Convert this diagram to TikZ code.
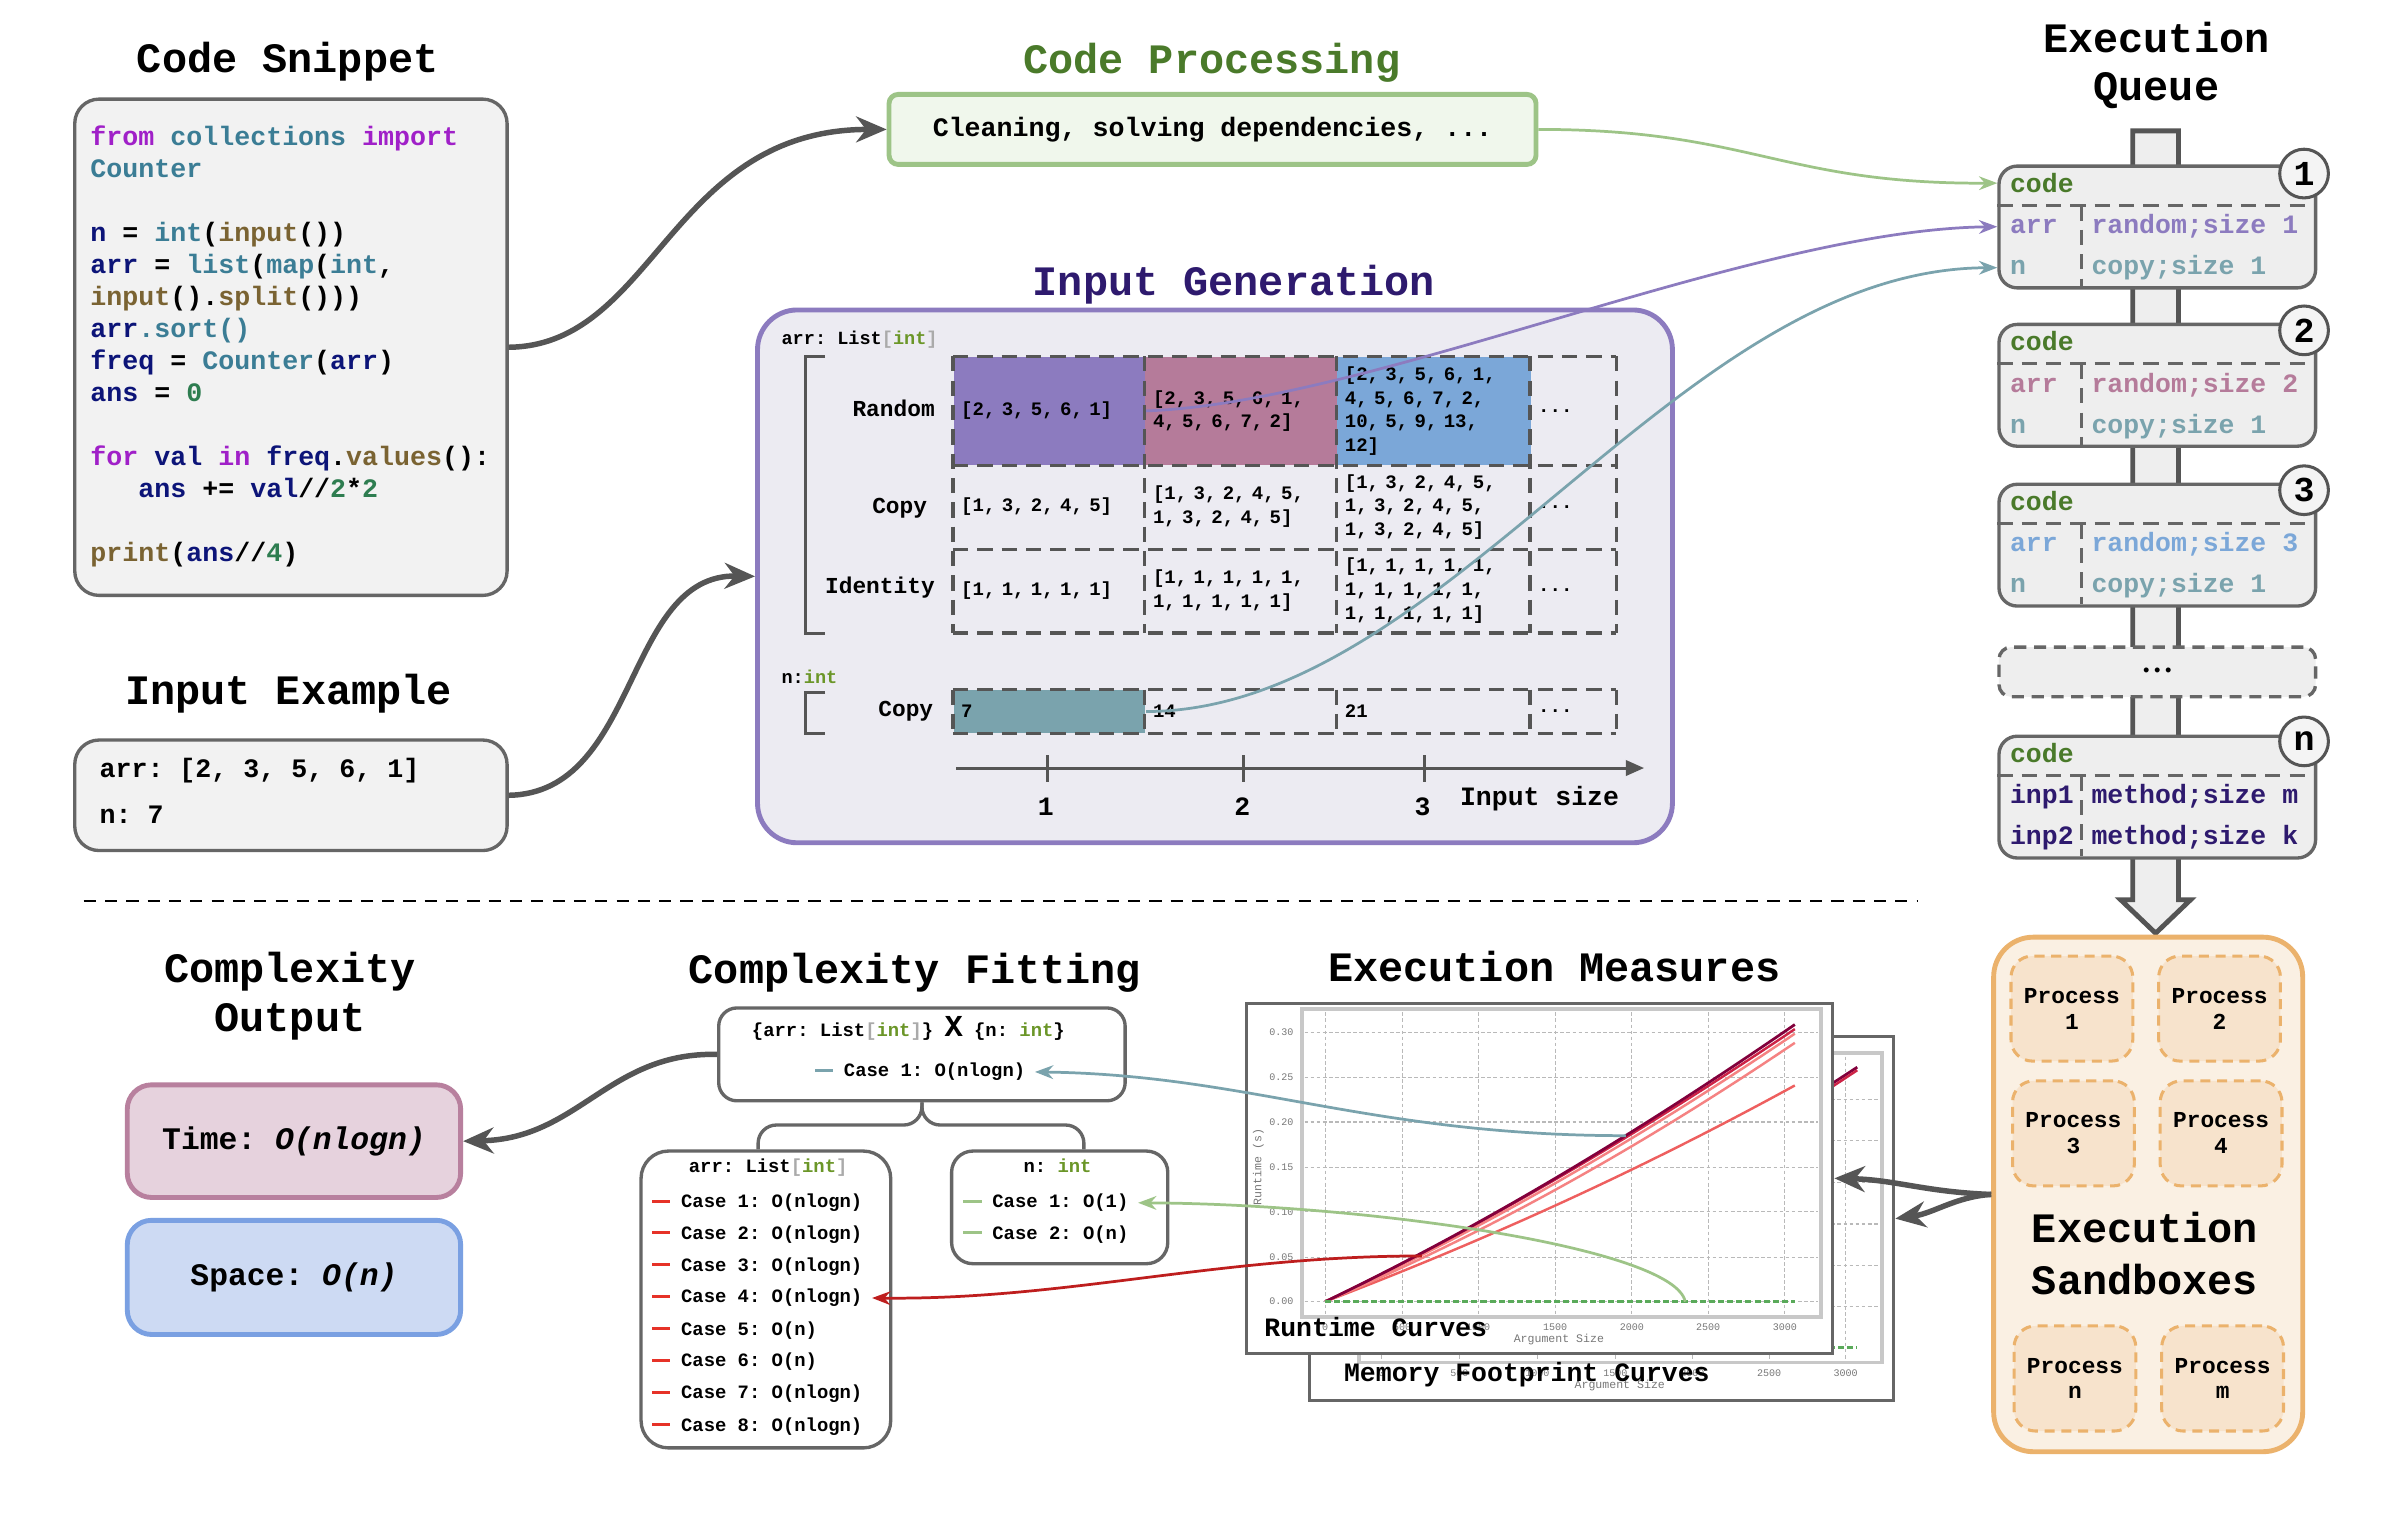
\documentclass[tikz,border=0pt]{standalone}
\usepackage{fontspec}
\setmainfont{Liberation Mono}
\usepackage{tikz}
\usetikzlibrary{positioning,arrows.meta}
\AtBeginDocument{\frenchspacing}

% colours
\definecolor{linegray}{RGB}{85,85,85}
\definecolor{boxgray}{RGB}{102,102,102}
\definecolor{codebg}{RGB}{242,242,242}
\definecolor{queuebg}{RGB}{238,238,238}
\definecolor{circbg}{RGB}{244,244,244}
\definecolor{kwpurple}{RGB}{160,32,200}
\definecolor{biteal}{RGB}{59,125,149}
\definecolor{fnbrown}{RGB}{122,99,50}
\definecolor{varnavy}{RGB}{12,20,120}
\definecolor{numgreen}{RGB}{46,125,80}
\definecolor{procgreen}{RGB}{157,196,135}
\definecolor{procbg}{RGB}{240,247,236}
\definecolor{titlegreen}{RGB}{74,122,42}
\definecolor{titlepurple}{RGB}{46,26,110}
\definecolor{genline}{RGB}{140,123,191}
\definecolor{genbg}{RGB}{236,235,242}
\definecolor{randpurple}{RGB}{140,123,191}
\definecolor{randmauve}{RGB}{181,123,154}
\definecolor{randblue}{RGB}{123,167,216}
\definecolor{copyteal}{RGB}{122,163,173}
\definecolor{typegreen}{RGB}{107,150,40}
\definecolor{typegray}{RGB}{170,170,170}
\definecolor{sandline}{RGB}{235,178,108}
\definecolor{sandbg}{RGB}{250,240,227}
\definecolor{procfill}{RGB}{247,227,204}
\definecolor{timeline}{RGB}{184,128,158}
\definecolor{timebg}{RGB}{230,210,221}
\definecolor{spaceline}{RGB}{122,160,226}
\definecolor{spacebg}{RGB}{205,218,243}
\definecolor{casered}{RGB}{230,50,40}
\definecolor{arrowred}{RGB}{190,30,30}
\definecolor{gridgray}{RGB}{185,185,185}
\definecolor{framegray}{RGB}{200,200,200}
\definecolor{tickgray}{RGB}{120,120,120}
\definecolor{rtdark}{RGB}{130,0,60}
\definecolor{rtred}{RGB}{205,35,70}
\definecolor{rtpink}{RGB}{245,130,130}
\definecolor{rtsalmon}{RGB}{238,95,95}
\definecolor{rtgreen}{RGB}{90,170,90}

% code colouring
\newcommand{\ckw}[1]{\textcolor{kwpurple}{#1}}
\newcommand{\cbi}[1]{\textcolor{biteal}{#1}}
\newcommand{\cfn}[1]{\textcolor{fnbrown}{#1}}
\newcommand{\cvr}[1]{\textcolor{varnavy}{#1}}
\newcommand{\cnm}[1]{\textcolor{numgreen}{#1}}
\newcommand{\tyint}{\textcolor{typegreen}{int}}
\newcommand{\tylist}{List\textcolor{typegray}{[}\tyint\textcolor{typegray}{]}}
\newcommand{\casedash}[1]{\textcolor{#1}{\rule[0.5ex]{6pt}{1pt}}\hspace{3.5pt}}

\tikzset{
  ttl/.style={font=\fontsize{13.75}{16}\selectfont\bfseries, align=center, inner sep=0pt},
  card/.style={draw=boxgray, line width=1.1pt, fill=codebg, rounded corners=8pt, anchor=north west, inner sep=0pt},
  codetxt/.style={font=\fontsize{8.75}{10.5}\selectfont\bfseries, align=left, inner sep=0pt, anchor=base west},
  cellbox/.style={anchor=north west, align=left, inner xsep=2.5pt, inner ysep=0pt, font=\fontsize{6.25}{7.75}\selectfont\bfseries},
  gridln/.style={draw=linegray, line width=1.1pt, dash pattern=on 5pt off 3pt},
  brkt/.style={draw=linegray, line width=1.1pt},
  rowlbl/.style={font=\fontsize{7.5}{9}\selectfont\bfseries, inner sep=0pt, anchor=base},
  smalltxt/.style={font=\fontsize{6.1}{7.5}\selectfont\bfseries, inner sep=0pt},
  axisln/.style={draw=linegray, line width=1pt},
  axlbl/.style={font=\fontsize{8.7}{10}\selectfont\bfseries, inner sep=0pt, anchor=base},
  pipe/.style={draw=linegray, line width=1.6pt, fill=queuebg, line join=miter},
  qbox/.style={draw=boxgray, line width=1.1pt, fill=queuebg, rounded corners=6pt, anchor=north west, inner sep=0pt, minimum width=104pt, minimum height=40pt},
  qtxt/.style={font=\fontsize{8.7}{10}\selectfont\bfseries, anchor=base west, inner sep=0pt},
  qsplit/.style={draw=boxgray, line width=1pt, dash pattern=on 5pt off 3pt},
  qnum/.style={circle, draw=linegray, line width=1pt, fill=circbg, minimum size=16pt, inner sep=0pt, font=\fontsize{11.5}{12}\selectfont\bfseries},
  procbx/.style={draw=sandline, line width=1pt, dash pattern=on 3.3pt off 2.2pt, fill=procfill, rounded corners=7pt, anchor=north west, minimum width=40pt, minimum height=34.5pt, align=center, inner sep=0pt, font=\fontsize{7.5}{8.5}\selectfont\bfseries},
  fitbox/.style={draw=boxgray, line width=1.1pt, fill=white, rounded corners=6pt, anchor=north west, inner sep=0pt},
  caseln/.style={font=\fontsize{6.2}{7.5}\selectfont\bfseries, anchor=base west, inner xsep=3pt, inner ysep=0.5pt},
  brace/.style={draw=boxgray, line width=1.1pt, rounded corners=6pt},
  outbox/.style={anchor=north west, line width=1.6pt, rounded corners=8pt, minimum width=109.5pt, inner sep=0pt, font=\fontsize{10.3}{12}\selectfont\bfseries},
  plotbox/.style={draw=boxgray, line width=1pt, fill=white, anchor=north west, inner sep=0pt},
  plotin/.style={draw=framegray, line width=1.3pt},
  plotgrid/.style={draw=gridgray, line width=0.35pt, dash pattern=on 1.2pt off 0.8pt},
  ticklbl/.style={font=\fontsize{3.3}{4}\selectfont, text=tickgray, inner sep=0pt},
  curvelbl/.style={font=\fontsize{8.7}{10}\selectfont\bfseries, anchor=base west, inner sep=0pt},
  bigarrow/.style={draw=linegray, line width=1.8pt, -{Stealth[length=10pt,width=8.5pt]}},
  thinarrow/.style={line width=0.9pt, -{Stealth[length=6pt,width=4.5pt]}},
}

\begin{document}
\begin{tikzpicture}[x=0.5pt,y=-0.5pt]
  \path[use as bounding box, fill=white] (0,0) rectangle (1568,1003);

  % Code snippet
  \node[ttl, anchor=base] (snipttl) at (189,47.7) {Code Snippet};
  \node[card, minimum width=142pt, minimum height=163pt] (snip) at (48,64) {};
  % base of a multi-line node is its last line
  \node[codetxt] (snipcode) at (59,368.6) {%
    \ckw{from} \cbi{collections} \ckw{import}\\
    \cbi{Counter}\\[10.5pt]
    \cvr{n} = \cbi{int}(\cfn{input}())\\
    \cvr{arr} = \cbi{list}(\cbi{map}(\cbi{int},\\
    \cfn{input}().\cfn{split}()))\\
    \cvr{arr}\cbi{.sort()}\\
    \cvr{freq} = \cbi{Counter}(\cvr{arr})\\
    \cvr{ans} = \cnm{0}\\[10.5pt]
    \ckw{for} \cvr{val} \ckw{in} \cvr{freq}.\cfn{values}():\\
    \hspace*{15.75pt}\cvr{ans} += \cvr{val}//\cnm{2}*\cnm{2}\\[10.5pt]
    \cfn{print}(\cvr{ans}//\cnm{4})};

  % Input example
  \node[ttl, anchor=base] (inexttl) at (189.5,462.5) {Input Example};
  \node[card, minimum width=142pt, minimum height=36.3pt] (inex) at (48,485) {};
  \node[codetxt] (inexarr) at (65,510.6) {arr: [2, 3, 5, 6, 1]};
  \node[codetxt] (inexn) at (65,540.8) {n: 7};

  % Code processing
  \node[ttl, anchor=base, text=titlegreen] (procttl) at (796,48.2) {Code Processing};
  \node[draw=procgreen, fill=procbg, line width=1.6pt, rounded corners=3pt, minimum width=212.5pt, minimum height=23pt, inner sep=0pt, font=\fontsize{8.75}{10}\selectfont\bfseries] (proc) at (796.5,85) {Cleaning, solving dependencies, ...};

  % Input generation
  \node[ttl, anchor=base, text=titlepurple] (genttl) at (810.5,194.4) {Input Generation};
  \node[draw=genline, fill=genbg, line width=1.6pt, rounded corners=13pt, anchor=north west, minimum width=300.5pt, minimum height=175pt, inner sep=0pt] (gen) at (496,202) {};
  \node[smalltxt, anchor=base west] (arrtype) at (513,226) {arr: \tylist};
  \draw[brkt] (542,234) -- (529,234) -- (529,416) -- (542,416);
  \node[rowlbl] (lblrnd) at (587,273.3) {Random};
  \node[rowlbl] (lblcpy) at (591,337.6) {Copy};
  \node[rowlbl] (lblidt) at (578,389.8) {Identity};

  % arr cells
  \node[cellbox, text width=58pt, minimum height=35.5pt, fill=randpurple] (rnd1) at (626,234) {[2, 3, 5, 6, 1]};
  \node[cellbox, text width=58pt, minimum height=35.5pt, fill=randmauve] (rnd2) at (752,234) {[2, 3, 5, 6, 1,\\4, 5, 6, 7, 2]};
  \node[cellbox, text width=58.5pt, minimum height=35.5pt, fill=randblue] (rnd3) at (878,234) {[2, 3, 5, 6, 1,\\4, 5, 6, 7, 2,\\10, 5, 9, 13,\\12]};
  \node[cellbox, text width=23pt, minimum height=35.5pt] (rnd4) at (1005,234) {...};
  \node[cellbox, text width=58pt, minimum height=27.5pt] (cpy1) at (626,305) {[1, 3, 2, 4, 5]};
  \node[cellbox, text width=58pt, minimum height=27.5pt] (cpy2) at (752,305) {[1, 3, 2, 4, 5,\\1, 3, 2, 4, 5]};
  \node[cellbox, text width=58.5pt, minimum height=27.5pt] (cpy3) at (878,305) {[1, 3, 2, 4, 5,\\1, 3, 2, 4, 5,\\1, 3, 2, 4, 5]};
  \node[cellbox, text width=23pt, minimum height=27.5pt] (cpy4) at (1005,305) {...};
  \node[cellbox, text width=58pt, minimum height=27.5pt] (idt1) at (626,360) {[1, 1, 1, 1, 1]};
  \node[cellbox, text width=58pt, minimum height=27.5pt] (idt2) at (752,360) {[1, 1, 1, 1, 1,\\1, 1, 1, 1, 1]};
  \node[cellbox, text width=58.5pt, minimum height=27.5pt] (idt3) at (878,360) {[1, 1, 1, 1, 1,\\1, 1, 1, 1, 1,\\1, 1, 1, 1, 1]};
  \node[cellbox, text width=23pt, minimum height=27.5pt] (idt4) at (1005,360) {...};
  \draw[gridln] (rnd1.north west) -- (rnd4.north east);
  \draw[gridln] (rnd1.south west) -- (rnd4.south east);
  \draw[gridln] (cpy1.south west) -- (cpy4.south east);
  \draw[gridln] (idt1.south west) -- (idt4.south east);
  \draw[gridln] (rnd1.north west) -- (idt1.south west);
  \draw[gridln] (rnd2.north west) -- (idt2.south west);
  \draw[gridln] (rnd3.north west) -- (idt3.south west);
  \draw[gridln] (rnd4.north west) -- (idt4.south west);
  \draw[gridln] (rnd4.north east) -- (idt4.south east);

  % n cells
  \node[smalltxt, anchor=base west] (ntype) at (513,448.9) {n:\tyint};
  \draw[brkt] (542,455) -- (529,455) -- (529,482) -- (542,482);
  \node[rowlbl] (lblncpy) at (595,470.8) {Copy};
  \node[cellbox, text width=58pt, minimum height=14pt, fill=copyteal] (ncp1) at (626,453) {7};
  \node[cellbox, text width=58pt, minimum height=14pt] (ncp2) at (752,453) {14};
  \node[cellbox, text width=58.5pt, minimum height=14pt] (ncp3) at (878,453) {21};
  \node[cellbox, text width=23pt, minimum height=14pt] (ncp4) at (1005,453) {...};
  \draw[gridln] (ncp1.north west) -- (ncp4.north east);
  \draw[gridln] (ncp1.south west) -- (ncp4.south east);
  \draw[gridln] (ncp1.north west) -- (ncp1.south west);
  \draw[gridln] (ncp2.north west) -- (ncp2.south west);
  \draw[gridln] (ncp3.north west) -- (ncp3.south west);
  \draw[gridln] (ncp4.north west) -- (ncp4.south west);
  \draw[gridln] (ncp4.north east) -- (ncp4.south east);

  % input size axis
  \coordinate (axstart) at (628,504.5);
  \coordinate (axend) at (1080,504.5);
  \draw[axisln, -{Triangle[length=6pt,width=5pt]}] (axstart) -- (axend);
  \draw[axisln] (688,496) -- (688,514) (817,496) -- (817,514) (935.5,496) -- (935.5,514);
  \node[axlbl] (axone) at (687,536) {1};
  \node[axlbl] (axtwo) at (816,536) {2};
  \node[axlbl] (axthree) at (934.5,536) {3};
  \node[axlbl, anchor=base west] (axttl) at (958.7,528.8) {Input size};

  % Execution queue
  \node[ttl] (queuettl) at (1416.5,43) {Execution\\Queue};
  \draw[pipe] (1401,86) -- (1431,86) -- (1431,591) -- (1439,591) -- (1416,613) -- (1393,591) -- (1401,591) -- cycle;

  \node[qbox] (q1) at (1312,108) {};
  \node[qtxt, text=titlegreen] (q1code) at (1320,126.5) {code};
  \draw[qsplit] (1312,135) -- (1520,135) (1367.5,135) -- (1367.5,188);
  \node[qtxt, text=randpurple] (q1arr) at (1320,153.5) {arr};
  \node[qtxt, text=randpurple] (q1arrv) at (1373.5,153.5) {random;size 1};
  \node[qtxt, text=copyteal] (q1n) at (1320,180.5) {n};
  \node[qtxt, text=copyteal] (q1nv) at (1373.5,180.5) {copy;size 1};
  \node[qnum] (q1num) at (1513.5,114) {1};

  \node[qbox] (q2) at (1312,212) {};
  \node[qtxt, text=titlegreen] (q2code) at (1320,230.5) {code};
  \draw[qsplit] (1312,239) -- (1520,239) (1367.5,239) -- (1367.5,292);
  \node[qtxt, text=randmauve] (q2arr) at (1320,257.5) {arr};
  \node[qtxt, text=randmauve] (q2arrv) at (1373.5,257.5) {random;size 2};
  \node[qtxt, text=copyteal] (q2n) at (1320,284.5) {n};
  \node[qtxt, text=copyteal] (q2nv) at (1373.5,284.5) {copy;size 1};
  \node[qnum] (q2num) at (1513.5,217) {2};

  \node[qbox] (q3) at (1312,317) {};
  \node[qtxt, text=titlegreen] (q3code) at (1320,335.5) {code};
  \draw[qsplit] (1312,344) -- (1520,344) (1367.5,344) -- (1367.5,397);
  \node[qtxt, text=randblue] (q3arr) at (1320,362.5) {arr};
  \node[qtxt, text=randblue] (q3arrv) at (1373.5,362.5) {random;size 3};
  \node[qtxt, text=copyteal] (q3n) at (1320,389.5) {n};
  \node[qtxt, text=copyteal] (q3nv) at (1373.5,389.5) {copy;size 1};
  \node[qnum] (q3num) at (1513.5,322) {3};

  \node[qbox, dash pattern=on 4pt off 2.5pt, minimum height=16.3pt, rounded corners=4pt, font=\fontsize{6}{6}\selectfont] (qdots) at (1312,424) {•••};

  \node[qbox] (qn) at (1312,482.5) {};
  \node[qtxt, text=titlegreen] (qncode) at (1320,501) {code};
  \draw[qsplit] (1312,509.5) -- (1520,509.5) (1367.5,509.5) -- (1367.5,562.5);
  \node[qtxt, text=titlepurple] (qninpa) at (1320,528) {inp1};
  \node[qtxt, text=titlepurple] (qninpav) at (1373.5,528) {method;size m};
  \node[qtxt, text=titlepurple] (qninpb) at (1320,555) {inp2};
  \node[qtxt, text=titlepurple] (qninpbv) at (1373.5,555) {method;size k};
  \node[qnum] (qnnum) at (1513.5,487) {n};

  % Execution sandboxes
  \node[draw=sandline, fill=sandbg, line width=1.6pt, rounded corners=13pt, anchor=north west, minimum width=101.5pt, minimum height=169pt, inner sep=0pt] (sb) at (1308,614) {};
  \node[procbx] (p1) at (1320,627) {Process\\1};
  \node[procbx] (p2) at (1417,627) {Process\\2};
  \node[procbx] (p3) at (1321,709) {Process\\3};
  \node[procbx] (p4) at (1418,709) {Process\\4};
  \node[ttl, font=\fontsize{13.75}{17}\selectfont\bfseries] (sbttl) at (1409,823.5) {Execution\\Sandboxes};
  \node[procbx] (pn) at (1322,870) {Process\\n};
  \node[procbx] (pm) at (1419,870) {Process\\m};

  % Execution measures
  \node[ttl, anchor=base] (measttl) at (1021,644.9) {Execution Measures};

  % memory footprint plot (behind)
  \node[plotbox, minimum width=192pt, minimum height=119.5pt] (pb) at (859,680) {};
  \draw[plotin] (893,692) rectangle (1236,895);
  \draw[plotgrid] (895,722) -- (1234,722) (895,749.3) -- (1234,749.3) (895,776.7) -- (1234,776.7) (895,804) -- (1234,804) (895,831.4) -- (1234,831.4) (895,858.3) -- (1234,858.3);
  \draw[plotgrid] (907.5,694) -- (907.5,893) (958.7,694) -- (958.7,893) (1009.9,694) -- (1009.9,893) (1061.1,694) -- (1061.1,893) (1111.7,694) -- (1111.7,893) (1162.1,694) -- (1162.1,893) (1212.4,694) -- (1212.4,893);
  \draw[rtdark, line width=0.9pt] (907.5,885) .. controls (1005,835) and (1110,773) .. (1220,701);
  \draw[rtred, line width=0.8pt] (907.5,885) .. controls (1005,837) and (1110,776) .. (1220,703);
  \draw[rtgreen, line width=0.9pt, dash pattern=on 2pt off 1pt] (907.5,885) -- (1220,885);
  \node[ticklbl] (bx0) at (907.5,902) {0};
  \node[ticklbl] (bx500) at (958.7,902) {500};
  \node[ticklbl] (bx1000) at (1009.9,902) {1000};
  \node[ticklbl] (bx1500) at (1061.1,902) {1500};
  \node[ticklbl] (bx2000) at (1111.7,902) {2000};
  \node[ticklbl] (bx2500) at (1162.1,902) {2500};
  \node[ticklbl] (bx3000) at (1212.4,902) {3000};
  \node[ticklbl, font=\fontsize{3.8}{4}\selectfont] (bxttl) at (1064,910) {Argument Size};
  \node[curvelbl] (memlbl) at (882.5,907.6) {Memory Footprint Curves};

  % runtime plot (front)
  \node[plotbox, minimum width=192.5pt, minimum height=115pt] (pf) at (818,658) {};
  \draw[plotin] (855,663) rectangle (1196,865);
  \draw[plotgrid] (857,678) -- (1194,678) (857,707.6) -- (1194,707.6) (857,737) -- (1194,737) (857,767) -- (1194,767) (857,796) -- (1194,796) (857,826) -- (1194,826) (857,855) -- (1194,855);
  \draw[plotgrid] (870.5,665) -- (870.5,863) (921,665) -- (921,863) (971,665) -- (971,863) (1021.5,665) -- (1021.5,863) (1072,665) -- (1072,863) (1122,665) -- (1122,863) (1172.5,665) -- (1172.5,863);
  \draw[rtsalmon, line width=0.8pt] (870.5,855) .. controls (975,815) and (1075,770) .. (1179,713);
  \draw[rtpink, line width=0.8pt] (870.5,855) .. controls (965,815) and (1065,762) .. (1179,685);
  \draw[rtpink, line width=0.8pt] (870.5,855) .. controls (962,813) and (1062,758) .. (1179,679);
  \draw[rtred, line width=0.8pt] (870.5,855) .. controls (960,812) and (1060,756) .. (1179,676);
  \draw[rtdark, line width=0.9pt] (870.5,855) .. controls (960,812) and (1060,755) .. (1179,673);
  \draw[rtgreen, line width=0.9pt, dash pattern=on 2pt off 1pt] (870.5,855) -- (1179,855);
  \node[ticklbl, anchor=east] (fy30) at (850,678) {0.30};
  \node[ticklbl, anchor=east] (fy25) at (850,707.6) {0.25};
  \node[ticklbl, anchor=east] (fy20) at (850,737) {0.20};
  \node[ticklbl, anchor=east] (fy15) at (850,767) {0.15};
  \node[ticklbl, anchor=east] (fy10) at (850,796) {0.10};
  \node[ticklbl, anchor=east] (fy05) at (850,826) {0.05};
  \node[ticklbl, anchor=east] (fy00) at (850,855) {0.00};
  \node[ticklbl] (fx0) at (870.5,871.5) {0};
  \node[ticklbl] (fx500) at (921,871.5) {500};
  \node[ticklbl] (fx1000) at (971,871.5) {1000};
  \node[ticklbl] (fx1500) at (1021.5,871.5) {1500};
  \node[ticklbl] (fx2000) at (1072,871.5) {2000};
  \node[ticklbl] (fx2500) at (1122,871.5) {2500};
  \node[ticklbl] (fx3000) at (1172.5,871.5) {3000};
  \node[ticklbl, font=\fontsize{3.8}{4}\selectfont] (fxttl) at (1024,879.6) {Argument Size};
  \node[ticklbl, font=\fontsize{3.8}{4}\selectfont, rotate=90] (fyttl) at (826.6,766.6) {Runtime (s)};
  \node[curvelbl] (rtlbl) at (830.2,878) {Runtime Curves};

  % Complexity fitting
  \node[ttl, anchor=base] (fitttl) at (601,646) {Complexity Fitting};
  \node[fitbox, minimum width=133.5pt, minimum height=30.5pt] (fit) at (471,661) {};
  \node[smalltxt, anchor=base, font=\fontsize{6.2}{7.5}\selectfont\bfseries] (fithead) at (596.7,681) {\{arr: \tylist\} {\fontsize{10}{10}\selectfont X} \{n: \tyint\}};
  \node[caseln] (fitc1) at (529,707.3) {\casedash{copyteal}Case 1: O(nlogn)};

  \node[fitbox, rounded corners=9pt, minimum width=82pt, minimum height=97.5pt] (fa) at (420,755) {};
  \node[smalltxt, anchor=base, font=\fontsize{6.2}{7.5}\selectfont\bfseries] (fahead) at (504.6,770.3) {arr: \tylist};
  \node[caseln] (fac1) at (422,793.3) {\casedash{casered}Case 1: O(nlogn)};
  \node[caseln] (fac2) at (422,814.1) {\casedash{casered}Case 2: O(nlogn)};
  \node[caseln] (fac3) at (422,835) {\casedash{casered}Case 3: O(nlogn)};
  \node[caseln] (fac4) at (422,855.8) {\casedash{casered}Case 4: O(nlogn)};
  \node[caseln] (fac5) at (422,877) {\casedash{casered}Case 5: O(n)};
  \node[caseln] (fac6) at (422,897.8) {\casedash{casered}Case 6: O(n)};
  \node[caseln] (fac7) at (422,918.9) {\casedash{casered}Case 7: O(nlogn)};
  \node[caseln] (fac8) at (422,940.1) {\casedash{casered}Case 8: O(nlogn)};

  \node[fitbox, rounded corners=7pt, minimum width=71pt, minimum height=37pt] (fn) at (624,755) {};
  \node[smalltxt, anchor=base, font=\fontsize{6.2}{7.5}\selectfont\bfseries] (fnhead) at (694.7,770.3) {n: \tyint};
  \node[caseln] (fnc1) at (626.5,793.3) {\casedash{procgreen}Case 1: O(1)};
  \node[caseln] (fnc2) at (626.5,814.1) {\casedash{procgreen}Case 2: O(n)};

  \coordinate (brL) at (498,755);
  \coordinate (brR) at (712,755);
  \draw[brace] (fit.south) |- (498,739) -- (brL);
  \draw[brace] (fit.south) |- (712,739) -- (brR);

  % Complexity output
  \node[ttl] (outttl) at (190.5,654.5) {Complexity\\Output};
  \node[outbox, draw=timeline, fill=timebg, minimum height=37pt] (time) at (82,711) {Time: \textit{O(nlogn)}};
  \node[outbox, draw=spaceline, fill=spacebg, minimum height=37.5pt] (space) at (82,800) {Space: \textit{O(n)}};

  % Separator
  \coordinate (sepL) at (55,592);
  \coordinate (sepR) at (1260,592);
  \draw[black, line width=0.8pt, dash pattern=on 4pt off 3pt] (sepL) -- (sepR);

  % Connectors
  \draw[bigarrow] (snip.east) .. controls (430,227) and (440,85) .. (proc.west);
  \draw[bigarrow] (inex.east) .. controls (420,521) and (410,377) .. (gen.west);
  \draw[thinarrow, procgreen] (proc.east) .. controls (1150,85) and (1170,121) .. (q1code.west -| q1.west);
  \draw[thinarrow, randpurple] (rnd1.east) .. controls (900,265) and (1150,151) .. (q1arr.west -| q1.west);
  \draw[thinarrow, copyteal] (ncp1.east) .. controls (950,467) and (1100,177) .. (q1n.west -| q1.west);

  \coordinate (rtA) at (1068,746);
  \coordinate (rtB) at (1107,855);
  \coordinate (rtC) at (934,825);
  \draw[thinarrow, copyteal] (rtA) .. controls (900,746) and (820,706) .. (fitc1.east);
  \draw[thinarrow, procgreen] (rtB) .. controls (1100,820) and (900,791) .. (fnc1.east);
  \draw[thinarrow, arrowred] (rtC) .. controls (800,825) and (700,854) .. (fac4.east);

  \draw[bigarrow] (fit.west) .. controls (400,691) and (380,748) .. (time.east);
  \draw[bigarrow] (sb.west) .. controls (1265,783) and (1245,775) .. (pf.east);
  \draw[bigarrow] (sb.west) .. controls (1285,786) and (1270,797) .. (pb.east);
\end{tikzpicture}
\end{document}
